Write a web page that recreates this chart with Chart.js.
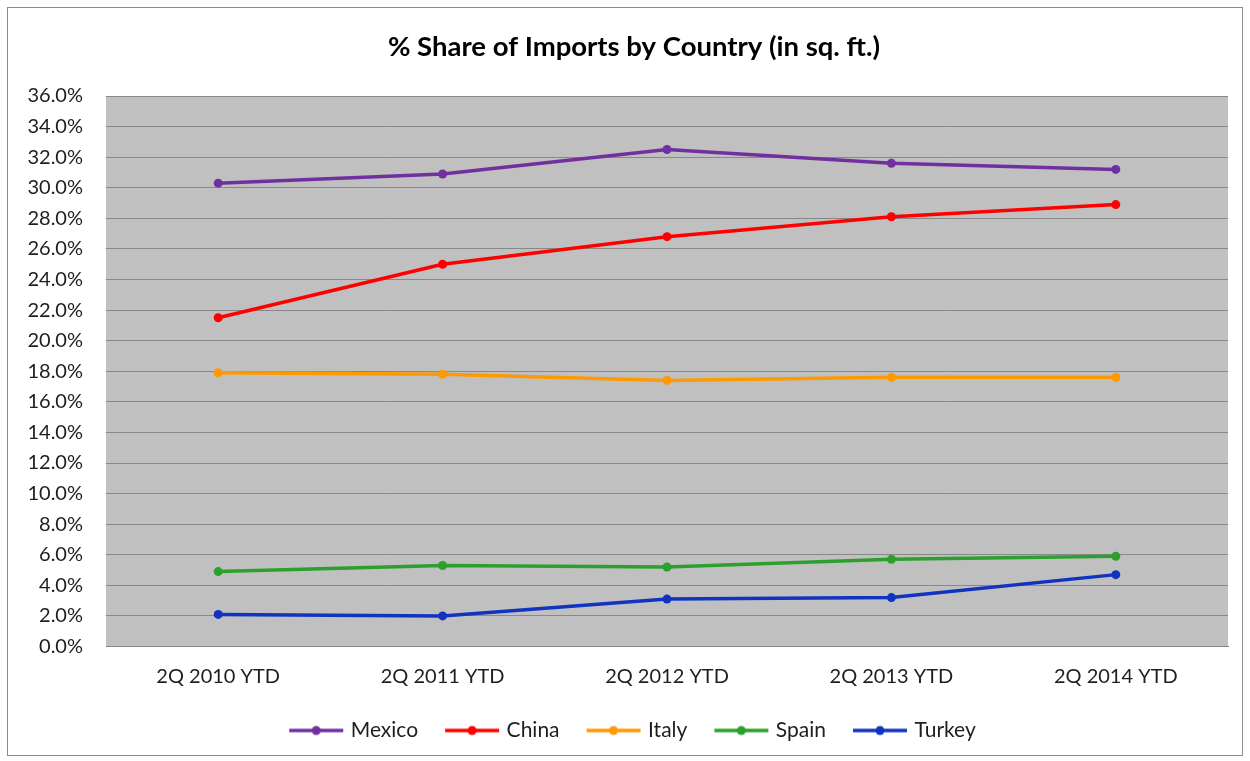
<!DOCTYPE html>
<html>
<head>
<meta charset="utf-8">
<script src="https://cdn.jsdelivr.net/npm/chart.js@4.4.1/dist/chart.umd.min.js"></script>
<style>
  html, body { margin: 0; padding: 0; background: #fff; }
  #wrap { width: 1250px; height: 761px; }
</style>
</head>
<body>
<div id="wrap"><canvas id="chart" width="1250" height="761"></canvas></div>
<script>
'use strict';

// ---- Data ----

const quarters = ['2Q 2010 YTD', '2Q 2011 YTD', '2Q 2012 YTD', '2Q 2013 YTD', '2Q 2014 YTD'];

const mexico = [30.3, 30.9, 32.5, 31.6, 31.2];
const china  = [21.5, 25.0, 26.8, 28.1, 28.9];
const italy  = [17.9, 17.8, 17.4, 17.6, 17.6];
const spain  = [4.9, 5.3, 5.2, 5.7, 5.9];
const turkey = [2.1, 2.0, 3.1, 3.2, 4.7];

const yTicks = [0, 2, 4, 6, 8, 10, 12, 14, 16, 18, 20, 22, 24, 26, 28, 30, 32, 34, 36];

const series = [
  ['Mexico', mexico, '#7030a0'],
  ['China',  china,  '#ff0000'],
  ['Italy',  italy,  '#ff9900'],
  ['Spain',  spain,  '#2ca02c'],
  ['Turkey', turkey, '#1034c0'],
];

const FONT = 'Lato, "Open Sans", sans-serif';
const TEXT = '#1e1e1e';

// ---- Legend marker: short line with a dot ----

function legendMarker(color) {
  const c = document.createElement('canvas');
  c.width = 56; c.height = 12;
  const g = c.getContext('2d');
  g.strokeStyle = color;
  g.lineWidth = 3.5;
  g.beginPath(); g.moveTo(1, 6); g.lineTo(55, 6); g.stroke();
  g.fillStyle = color;
  g.beginPath(); g.arc(28, 6, 4.5, 0, Math.PI * 2); g.fill();
  return c;
}

// ---- Plot background + outer frame ----

const frame = {
  id: 'frame',
  afterLayout(chart) {
    // centre title and legend on the page rather than the padded box
    for (const box of [chart.legend, chart.titleBlock]) {
      if (!box) continue;
      box.left += 10;
      box.right += 10;
    }
  },
  beforeDraw(chart) {
    const { ctx, chartArea: a } = chart;
    ctx.save();
    ctx.fillStyle = '#c0c0c0';
    ctx.fillRect(a.left, a.top, a.right - a.left, a.bottom - a.top);
    ctx.strokeStyle = '#8c8c8c';
    ctx.lineWidth = 1;
    ctx.strokeRect(7.5, 7.5, 1235, 748);
    ctx.restore();
  },
};

const ctx = document.getElementById('chart').getContext('2d');
new Chart(ctx, {
  type: 'line',
  data: {
    labels: quarters,
    datasets: series.map(([label, data, color]) => ({
      label,
      data,
      borderColor: color,
      backgroundColor: color,
      borderWidth: 3.5,
      pointRadius: 4.5,
      pointBorderWidth: 0,
      pointStyle: 'circle',
      tension: 0,
    })),
  },
  options: {
    responsive: false,
    animation: false,
    layout: { padding: { left: 20, right: 22, top: 0, bottom: 10 } },
    plugins: {
      title: {
        display: true,
        text: '% Share of Imports by Country (in sq. ft.)',
        color: '#000',
        font: { family: FONT, size: 27.5, weight: 'bold' },
        padding: { top: 31, bottom: 32 },
      },
      legend: {
        position: 'bottom',
        labels: {
          color: TEXT,
          font: { family: FONT, size: 21 },
          usePointStyle: true,
          pointStyleWidth: 48,
          padding: 30,
          generateLabels(chart) {
            return chart.data.datasets.map((ds, i) => ({
              text: ds.label,
              fontColor: TEXT,
              pointStyle: legendMarker(ds.borderColor),
              datasetIndex: i,
              lineWidth: 0,
              hidden: false,
            }));
          },
        },
      },
      tooltip: { enabled: false },
    },
    scales: {
      x: {
        offset: true,
        grid: { display: false, drawTicks: false, tickLength: 0 },
        border: { display: true, color: '#888', width: 1 },
        ticks: { color: TEXT, font: { family: FONT, size: 20 }, padding: 18, maxRotation: 0 },
        afterFit(s) { s.height = 43.5; },
      },
      y: {
        min: 0,
        max: 36,
        afterBuildTicks(s) { s.ticks = yTicks.map(v => ({ value: v })); },
        grid: { color: '#888', lineWidth: 1, drawTicks: false },
        border: { display: false },
        ticks: {
          color: TEXT,
          font: { family: FONT, size: 20 },
          padding: 23,
          callback: v => v.toFixed(1) + '%',
        },
        afterFit(s) { s.width = 86; },
      },
    },
  },
  plugins: [frame],
});
</script>
</body>
</html>
